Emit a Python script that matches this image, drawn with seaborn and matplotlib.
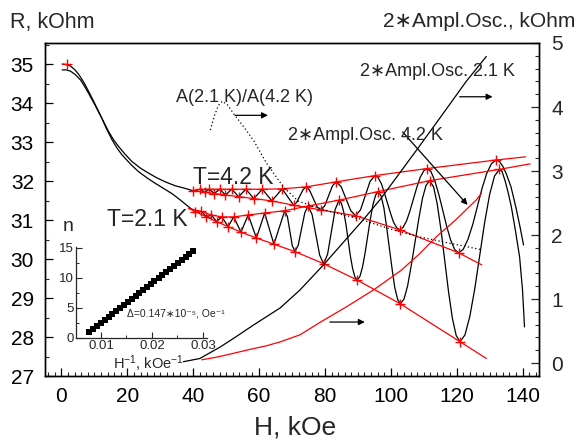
import matplotlib
matplotlib.use('Agg')
import matplotlib.pyplot as plt
import seaborn as sns
from matplotlib.ticker import MultipleLocator

# ---------------- data ----------------
# R(H) at 4.2 K, left axis (kOhm)
h42_drop = [0.2, 1.5, 2.7, 4.0, 5.2, 6.8, 8.3, 9.8, 11.3, 12.8, 14.3, 15.8, 17.4, 19.4, 21.4, 24.0, 26.5, 29.0, 31.5, 34.5, 37.6]
r42_drop = [35.00, 34.99, 34.95, 34.86, 34.74, 34.53, 34.29, 34.04, 33.78, 33.52, 33.27, 33.06, 32.88, 32.68, 32.50, 32.33, 32.20, 32.08, 31.98, 31.88, 31.81]
h42_osc = [40.0, 42.1, 43.5, 44.9, 46.4, 48.1, 49.8, 51.7, 53.8, 56.0, 58.4, 61.0, 63.9, 67.0, 70.5, 71.4, 72.35, 73.3,
           74.2, 75.3, 76.45, 77.6, 78.7, 79.9, 81.1, 82.3, 83.5, 84.95, 86.4, 87.85, 89.3, 90.8, 92.25, 93.7,
           95.2, 96.1, 97.1, 98.0, 98.95, 99.9, 100.8, 101.8, 102.7, 103.7, 104.8, 105.8, 106.85, 107.9, 108.9, 110.0,
           111.0, 112.2, 113.4, 114.6, 115.8, 117.0, 118.2, 119.4, 120.6, 122.0, 123.45, 124.9, 126.3, 127.7, 129.1, 130.6,
           132.0, 133.0, 134.0, 135.0, 136.5, 138.0, 139.3, 140.3]
r42_osc = [31.75, 31.79, 31.71, 31.79, 31.68, 31.79, 31.64, 31.79, 31.60, 31.79, 31.55, 31.79, 31.49, 31.80, 31.38, 31.45, 31.61, 31.77,
           31.85, 31.77, 31.555, 31.34, 31.26, 31.36, 31.62, 31.88, 31.98, 31.85, 31.545, 31.24, 31.11, 31.26, 31.625, 31.99,
           32.14, 32.09, 31.94, 31.71, 31.445, 31.18, 30.95, 30.80, 30.75, 30.81, 30.98, 31.23, 31.535, 31.84, 32.09, 32.26,
           32.32, 32.24, 32.00, 31.65, 31.24, 30.83, 30.48, 30.24, 30.16, 30.25, 30.51, 30.89, 31.35, 31.81, 32.19, 32.45,
           32.54, 32.50, 32.38, 32.20, 31.85, 31.32, 30.80, 30.36]

# R(H) at 2.1 K
h21_drop = [0.2, 1.5, 2.7, 4.2, 5.8, 7.0, 8.3, 10.3, 12.3, 13.8, 15.4, 16.9, 18.4, 20.9, 23.4, 26.0, 28.5, 31.0, 33.5, 36.0, 38.6]
r21_drop = [34.85, 34.85, 34.82, 34.73, 34.59, 34.43, 34.24, 33.93, 33.60, 33.32, 33.05, 32.84, 32.67, 32.44, 32.24, 32.08, 31.94, 31.81, 31.68, 31.52, 31.34]
h21_osc = [40.6, 42.5, 44.0, 45.5, 47.1, 48.7, 50.6, 52.3, 54.5, 56.7, 59.2, 61.7, 64.5, 67.8, 68.6, 69.35, 70.1,
           70.9, 71.9, 72.9, 73.9, 74.9, 76.1, 77.25, 78.4, 79.6, 80.8, 81.95, 83.1, 84.3, 85.0, 85.7, 86.4, 87.05, 87.7, 88.4, 89.1,
           89.8, 90.6, 91.4, 92.2, 93.0, 93.8, 94.6, 95.4, 96.2, 97.05, 97.9, 98.7, 99.55, 100.4, 101.2, 102.1,
           102.9, 104.0, 105.1, 106.2, 107.35, 108.5, 109.6, 110.7, 111.8, 113.0, 114.1, 115.25, 116.4, 117.55, 118.7, 119.85,
           121.0, 122.5, 124.0, 125.5, 127.0, 128.5, 130.0, 131.5, 133.0, 133.8, 134.8, 135.7, 136.6, 137.8, 139.1, 140.0, 140.6]
r21_osc = [31.21, 31.22, 31.08, 31.13, 30.96, 31.08, 30.83, 31.08, 30.69, 31.13, 30.54, 31.18, 30.38, 31.24, 31.09, 30.715, 30.34,
           30.19, 30.36, 30.775, 31.19, 31.36, 31.14, 30.62, 30.10, 29.88, 30.12, 30.695, 31.27, 31.51, 31.43, 31.21, 30.88, 30.485, 30.09, 29.76, 29.54,
           29.46, 29.55, 29.79, 30.16, 30.595, 31.03, 31.40, 31.64, 31.73, 31.62, 31.31, 30.84, 30.29, 29.74, 29.27, 28.96,
           28.85, 28.97, 29.31, 29.83, 30.43, 31.03, 31.55, 31.89, 32.01, 31.85, 31.41, 30.74, 29.945, 29.15, 28.48, 28.04,
           27.88, 28.05, 28.53, 29.24, 30.09, 30.94, 31.65, 32.13, 32.30, 32.24, 31.98, 31.68, 31.34, 30.75, 30.06, 29.20, 28.26]

# extrema (red crosses) and envelopes
h42_max = [42.1, 44.9, 48.1, 51.7, 56.0, 61.0, 67.0, 74.2, 83.5, 95.2, 111.0, 132.0]
r42_max = [31.79, 31.79, 31.79, 31.79, 31.79, 31.79, 31.80, 31.85, 31.98, 32.14, 32.32, 32.54]
h42_min = [43.5, 46.4, 49.8, 53.8, 58.4, 63.9, 70.5, 78.7, 89.3, 102.7, 120.6]
r42_min = [31.71, 31.68, 31.64, 31.60, 31.55, 31.49, 31.38, 31.26, 31.11, 30.75, 30.16]
h42_env_ends = [40.0, 140.9, 127.6]
r42_env_ends = [31.75, 32.62, 29.85]

h21_max = [42.5, 45.5, 48.7, 52.3, 56.7, 61.7, 67.8, 74.9, 84.3, 96.2, 111.8, 133.0]
r21_max = [31.22, 31.13, 31.08, 31.08, 31.13, 31.18, 31.24, 31.36, 31.51, 31.73, 32.01, 32.30]
h21_min = [44.0, 47.1, 50.6, 54.5, 59.2, 64.5, 70.9, 79.6, 89.8, 102.9, 121.0]
r21_min = [31.08, 30.96, 30.83, 30.69, 30.54, 30.38, 30.19, 29.88, 29.46, 28.85, 27.88]
h21_env_ends = [38.6, 142.3, 129.0]
r21_env_ends = [31.30, 32.44, 27.45]

h_start_mark = [1.7, 40.0, 40.6]
r_start_mark = [35.00, 31.75, 31.21]

# right axis (kOhm)
h_ratio = [45.2, 46.5, 47.6, 48.8, 50.5, 52.2, 55.2, 58.3, 62.3, 67.4, 71.9, 76.4, 82.0, 90.6, 97.0, 102.7, 108.8, 118.0, 127.6]
a_ratio = [3.64, 3.87, 4.02, 4.09, 4.03, 3.90, 3.70, 3.48, 3.12, 2.75, 2.53, 2.45, 2.36, 2.25, 2.14, 2.05, 1.97, 1.87, 1.77]
h_amp21 = [37.0, 42.0, 48.2, 53.0, 58.2, 66.4, 72.4, 79.5, 91.5, 96.7, 108.3, 114.8, 122.9, 129.0]
a_amp21 = [0.02, 0.07, 0.25, 0.41, 0.59, 0.86, 1.14, 1.53, 2.23, 2.55, 3.36, 3.82, 4.40, 4.79]
h_amp42 = [42.6, 47.0, 52.1, 57.0, 62.3, 66.4, 72.4, 79.0, 86.6, 95.0, 103.2, 108.8, 113.8, 120.0, 126.0, 127.5]
a_amp42 = [0.05, 0.09, 0.15, 0.21, 0.27, 0.33, 0.44, 0.65, 0.88, 1.15, 1.45, 1.71, 1.97, 2.25, 2.55, 2.65]

# inset: oscillation number vs 1/H
inv_h = [0.0077, 0.0085, 0.0092, 0.0100, 0.0107, 0.0115, 0.0122, 0.0130, 0.0137, 0.0145, 0.0153, 0.0160, 0.0168, 0.0175,
         0.0183, 0.0190, 0.0198, 0.0205, 0.0213, 0.0220, 0.0228, 0.0236, 0.0243, 0.0251, 0.0258, 0.0266, 0.0273, 0.0281]
n_osc = [1.0, 1.5, 2.0, 2.5, 3.0, 3.5, 4.0, 4.5, 5.0, 5.5, 6.0, 6.5, 7.0, 7.5,
         8.0, 8.5, 9.0, 9.5, 10.0, 10.5, 11.0, 11.5, 12.0, 12.5, 13.0, 13.5, 14.0, 14.5]

x_ticks = [0, 20, 40, 60, 80, 100, 120, 140]
yl_ticks = [27, 28, 29, 30, 31, 32, 33, 34, 35]
yr_ticks = [0, 1, 2, 3, 4, 5]
inset_xticks = [0.01, 0.02, 0.03]
inset_xlabels = ['0.01', '0.02', '0.03']
inset_yticks = [0, 5, 10, 15]

# ---------------- style ----------------
sns.set_style('ticks')
plt.rcParams['font.family'] = ['Liberation Sans', 'DejaVu Sans']
plt.rcParams['mathtext.fontset'] = 'custom'
plt.rcParams['mathtext.rm'] = 'Liberation Sans'
plt.rcParams['mathtext.it'] = 'Liberation Sans:italic'
plt.rcParams['mathtext.bf'] = 'Liberation Sans:bold'
plt.rcParams['axes.linewidth'] = 1.0

W, HT = 577, 446
fig = plt.figure(figsize=(W / 100, HT / 100), dpi=100)
fig.patch.set_facecolor('white')
ax = fig.add_axes([45 / W, 1 - 376 / HT, 494 / W, 333 / HT])
ax2 = ax.twinx()

RED = '#ff0000'


def line(a, x, y, **kw):
    sns.lineplot(x=x, y=y, ax=a, estimator=None, sort=False, legend=False, **kw)


# black R(H) curves
line(ax, h42_drop + h42_osc, r42_drop + r42_osc, color='k', lw=0.9, zorder=2)
line(ax, h21_drop + h21_osc, r21_drop + r21_osc, color='k', lw=0.9, zorder=2)

# red envelopes
line(ax, [h42_env_ends[0]] + h42_max + [h42_env_ends[1]], [r42_env_ends[0]] + r42_max + [r42_env_ends[1]], color=RED, lw=0.9, zorder=3)
line(ax, [h42_env_ends[0]] + h42_min + [h42_env_ends[2]], [r42_env_ends[0]] + r42_min + [r42_env_ends[2]], color=RED, lw=0.9, zorder=3)
line(ax, [h21_env_ends[0]] + h21_max + [h21_env_ends[1]], [r21_env_ends[0]] + r21_max + [r21_env_ends[1]], color=RED, lw=0.9, zorder=3)
line(ax, [h21_env_ends[0]] + h21_min + [h21_env_ends[2]], [r21_env_ends[0]] + r21_min + [r21_env_ends[2]], color=RED, lw=0.9, zorder=3)

# red crosses at extrema
mark_h = h_start_mark + h42_max + h42_min + h21_max + h21_min
mark_r = r_start_mark + r42_max + r42_min + r21_max + r21_min
sns.scatterplot(x=mark_h, y=mark_r, ax=ax, marker='+', color=RED, s=60, linewidth=1.0, zorder=4, legend=False)

# right-axis curves
line(ax2, h_ratio, a_ratio, color='k', lw=0.9, linestyle=(0, (1, 2)))
line(ax2, h_amp21, a_amp21, color='k', lw=0.9)
line(ax2, h_amp42, a_amp42, color=RED, lw=0.9)

# axes limits / ticks
ax.set_xlim(-5, 145)
ax.set_ylim(27, 35.54)
ax2.set_ylim(-0.203, 5.0)
ax.set_xticks(x_ticks)
ax.set_yticks(yl_ticks)
ax2.set_yticks(yr_ticks)
ax.xaxis.set_minor_locator(MultipleLocator(2))
ax.yaxis.set_minor_locator(MultipleLocator(0.5))
ax2.yaxis.set_minor_locator(MultipleLocator(0.2))
ax.tick_params(which='major', direction='in', length=6, width=0.9, labelsize=15, top=False, right=False, colors='k')
ax.tick_params(which='minor', direction='in', length=3, width=0.8, top=False, right=False)
ax.tick_params(axis='x', which='major', pad=8)
ax.tick_params(axis='y', which='major', pad=8)
ax2.tick_params(which='major', direction='in', length=6, width=0.9, labelsize=15, pad=9)
ax2.tick_params(which='minor', direction='in', length=3, width=0.8)
for a in (ax, ax2):
    for s in a.spines.values():
        s.set_visible(True)
        s.set_linewidth(1.0)
        s.set_color('k')
ax.set_ylabel('')
ax2.set_ylabel('')
ax.set_xlabel('H, kOe', fontsize=19)
ax.xaxis.set_label_coords((295 - 45) / 494, -(415 - 376) / 333)


def px(x, y):
    return x / W, 1 - y / HT


fig.text(*px(10, 28), 'R, kOhm', fontsize=15.5, ha='left', va='baseline')
fig.text(*px(575, 27), '2\u2217Ampl.Osc., kOhm', fontsize=15, ha='right', va='baseline')
fig.text(*px(176, 102), 'A(2.1 K)/A(4.2 K)', fontsize=13, ha='left', va='baseline')
fig.text(*px(360, 76), '2\u2217Ampl.Osc. 2.1 K', fontsize=13, ha='left', va='baseline')
fig.text(*px(288, 140), '2\u2217Ampl.Osc. 4.2 K', fontsize=13, ha='left', va='baseline')
fig.text(*px(193, 184), 'T=4.2 K', fontsize=16.5, ha='left', va='baseline')
fig.text(*px(107, 226), 'T=2.1 K', fontsize=16.5, ha='left', va='baseline')

# arrows (right-axis data coordinates)
arrow_kw = dict(arrowstyle='-|>', color='k', lw=0.9, mutation_scale=9, shrinkA=0, shrinkB=0)
ax2.annotate('', xy=(62.7, 3.87), xytext=(52.7, 3.87), arrowprops=arrow_kw)
ax2.annotate('', xy=(130.9, 4.16), xytext=(120.9, 4.16), arrowprops=arrow_kw)
ax2.annotate('', xy=(123.3, 2.47), xytext=(103.6, 3.61), arrowprops=arrow_kw)
ax2.annotate('', xy=(92.1, 0.64), xytext=(81.5, 0.64), arrowprops=arrow_kw)

# inset
axin = fig.add_axes([76 / W, 1 - 338 / HT, 131 / W, 91 / HT])
axin.patch.set_alpha(0)
sns.scatterplot(x=inv_h, y=n_osc, ax=axin, marker='s', color='k', s=16, linewidth=0, legend=False)
axin.set_xlim(0.0051, 0.0308)
axin.set_ylim(0, 15.15)
axin.set_xticks(inset_xticks)
axin.set_yticks(inset_yticks)
axin.xaxis.set_minor_locator(MultipleLocator(0.005))
axin.yaxis.set_minor_locator(MultipleLocator(2.5))
axin.set_xticklabels(inset_xlabels)
axin.tick_params(which='major', direction='in', length=4, width=0.8, labelsize=9.5, pad=1.5)
axin.tick_params(which='minor', direction='in', length=2, width=0.7)
axin.spines['top'].set_visible(False)
axin.spines['right'].set_visible(False)
axin.spines['left'].set_linewidth(0.9)
axin.spines['bottom'].set_linewidth(0.9)
axin.set_xlabel('')
axin.set_ylabel('')
fig.text(*px(63, 231), 'n', fontsize=14, ha='left', va='baseline')
fig.text(*px(113, 369), 'H$^{-1}$, kOe$^{-1}$', fontsize=10.5, ha='left', va='baseline')
fig.text(*px(127, 317), '\u0394=0.147\u221710\u207b\u2075, Oe\u207b\u00b9', fontsize=7.5, ha='left', va='baseline')

fig.savefig('out.png', dpi=100, facecolor='white')
